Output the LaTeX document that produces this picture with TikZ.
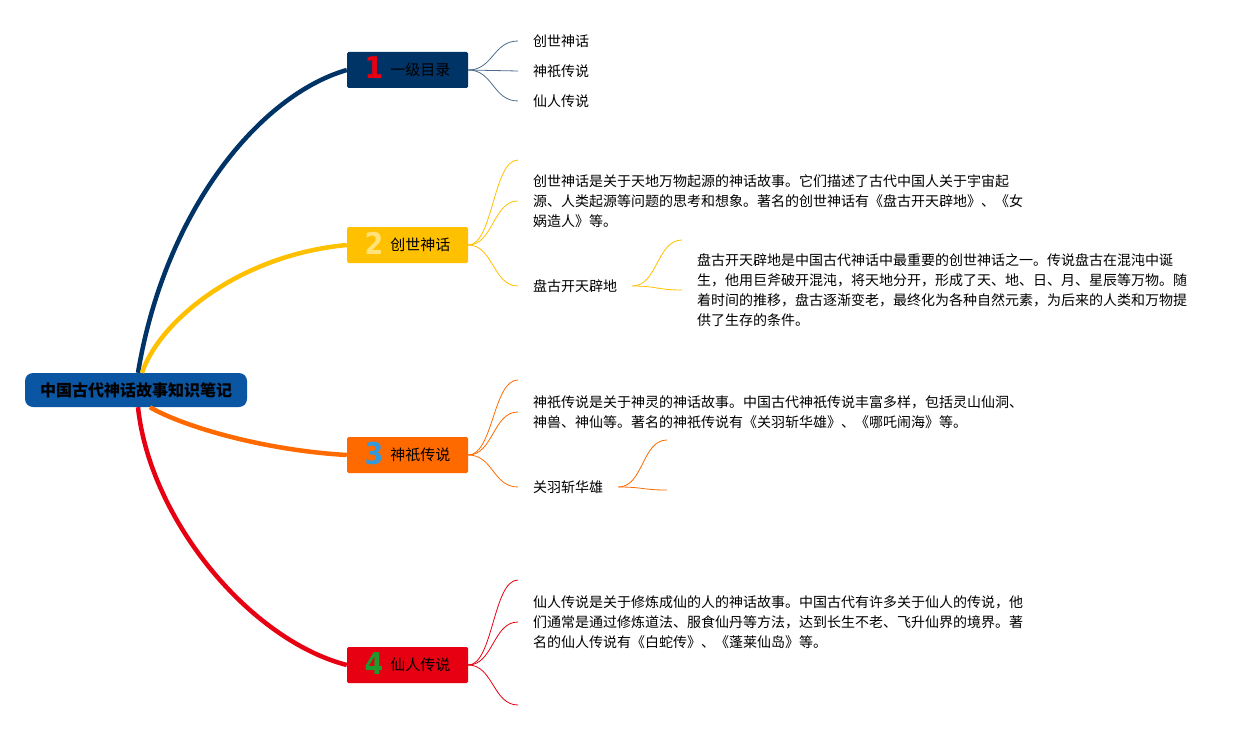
\documentclass[tikz,border=0pt]{standalone}
\usepackage{fontspec}
\setmainfont{Noto Sans CJK SC}
\newfontfamily\numfont{DejaVu Sans Condensed}
\definecolor{rootblue}{HTML}{0B56A3}
\definecolor{navy}{HTML}{003366}
\definecolor{gold}{HTML}{FFC000}
\definecolor{tangerine}{HTML}{FF6A00}
\definecolor{crimson}{HTML}{E60012}
\definecolor{slate}{HTML}{4D6B8C}
\definecolor{paleyellow}{HTML}{FFE27A}
\definecolor{skyblue}{HTML}{3399DD}
\definecolor{leafgreen}{HTML}{1E9A2E}
\tikzset{
  topic/.style={fill=#1, minimum width=121pt, minimum height=36pt, rounded corners=1.5pt, inner sep=0pt, text height=13pt, text depth=2pt, font=\fontsize{15}{18}\selectfont},
  branch/.style={line width=4.5pt, draw=#1},
  twig/.style={line width=0.8pt, draw=#1},
  leaf/.style={anchor=west, inner xsep=15pt, inner ysep=0pt, align=left, font=\fontsize{14}{20}\selectfont},
}
\newcommand\nummark[2]{\raisebox{-3.5pt}{\numfont\bfseries\fontsize{30}{30}\selectfont\color{#1}#2}\hspace{7pt}}
\begin{document}
\begin{tikzpicture}[x=1pt, y=-1pt]
\useasboundingbox (0,0) rectangle (1257,730);
% root
\node[fill=rootblue, rounded corners=8pt, minimum width=222pt, minimum height=34pt, font=\fontsize{16}{18}\selectfont\bfseries] (root) at (136,390) {中国古代神话故事知识笔记};
% main topics
\node[topic=navy] (t1) at (407.5,70) {\nummark{crimson}{1}一级目录};
\node[topic=gold] (t2) at (407.5,245) {\nummark{paleyellow}{2}创世神话};
\node[topic=tangerine] (t3) at (407.5,455) {\nummark{skyblue}{3}神祇传说};
\node[topic=crimson] (t4) at (407.5,665) {\nummark{leafgreen}{4}仙人传说};
\draw[branch=navy] ([xshift=2pt]root.north) .. controls (165,210) and (260,95) .. (t1.west);
\draw[branch=gold] ([xshift=6pt]root.north) .. controls (160,320) and (240,255) .. (t2.west);
\draw[branch=tangerine] ([xshift=14pt]root.south) .. controls (180,425) and (260,450) .. (t3.west);
\draw[branch=crimson] ([xshift=2pt]root.south) .. controls (150,520) and (250,640) .. (t4.west);
% topic 1
\node[leaf] (a1) at (518,41) {创世神话};
\node[leaf] (a2) at (518,71) {神祇传说};
\node[leaf] (a3) at (518,101) {仙人传说};
\foreach \n in {a1,a2,a3}
  \draw[twig=slate] (t1.east) .. controls +(25,0) and +(-25,0) .. (\n.west);
% topic 2
\coordinate (b0) at (518,160);
\node[leaf] (b1) at (518,201) {创世神话是关于天地万物起源的神话故事。它们描述了古代中国人关于宇宙起\\源、人类起源等问题的思考和想象。著名的创世神话有《盘古开天辟地》、《女\\娲造人》等。};
\node[leaf] (b2) at (518,286) {盘古开天辟地};
\draw[twig=gold] (t2.east) .. controls +(25,0) and +(-25,0) .. (b0);
\foreach \n in {b1,b2}
  \draw[twig=gold] (t2.east) .. controls +(25,0) and +(-25,0) .. (\n.west);
\coordinate (c0) at (682,240);
\node[leaf] (c1) at (682,290) {盘古开天辟地是中国古代神话中最重要的创世神话之一。传说盘古在混沌中诞\\生，他用巨斧破开混沌，将天地分开，形成了天、地、日、月、星辰等万物。随\\着时间的推移，盘古逐渐变老，最终化为各种自然元素，为后来的人类和万物提\\供了生存的条件。};
\draw[twig=gold] (b2.east) .. controls +(25,0) and +(-25,0) .. (c0);
\draw[twig=gold] (b2.east) .. controls +(25,0) and +(-25,0) .. (c1.west);
% topic 3
\coordinate (d0) at (518,380);
\node[leaf] (d1) at (518,412) {神祇传说是关于神灵的神话故事。中国古代神祇传说丰富多样，包括灵山仙洞、\\神兽、神仙等。著名的神祇传说有《关羽斩华雄》、《哪吒闹海》等。};
\node[leaf] (d2) at (518,487) {关羽斩华雄};
\draw[twig=tangerine] (t3.east) .. controls +(25,0) and +(-25,0) .. (d0);
\foreach \n in {d1,d2}
  \draw[twig=tangerine] (t3.east) .. controls +(25,0) and +(-25,0) .. (\n.west);
\coordinate (e0) at (667,440);
\coordinate (e1) at (667,490);
\foreach \n in {e0,e1}
  \draw[twig=tangerine] (d2.east) .. controls +(25,0) and +(-25,0) .. (\n);
% topic 4
\coordinate (f0) at (518,580);
\node[leaf] (f1) at (518,622) {仙人传说是关于修炼成仙的人的神话故事。中国古代有许多关于仙人的传说，他\\们通常是通过修炼道法、服食仙丹等方法，达到长生不老、飞升仙界的境界。著\\名的仙人传说有《白蛇传》、《蓬莱仙岛》等。};
\coordinate (f2) at (518,705);
\foreach \n in {f0,f2}
  \draw[twig=crimson] (t4.east) .. controls +(25,0) and +(-25,0) .. (\n);
\draw[twig=crimson] (t4.east) .. controls +(25,0) and +(-25,0) .. (f1.west);
\end{tikzpicture}
\end{document}
